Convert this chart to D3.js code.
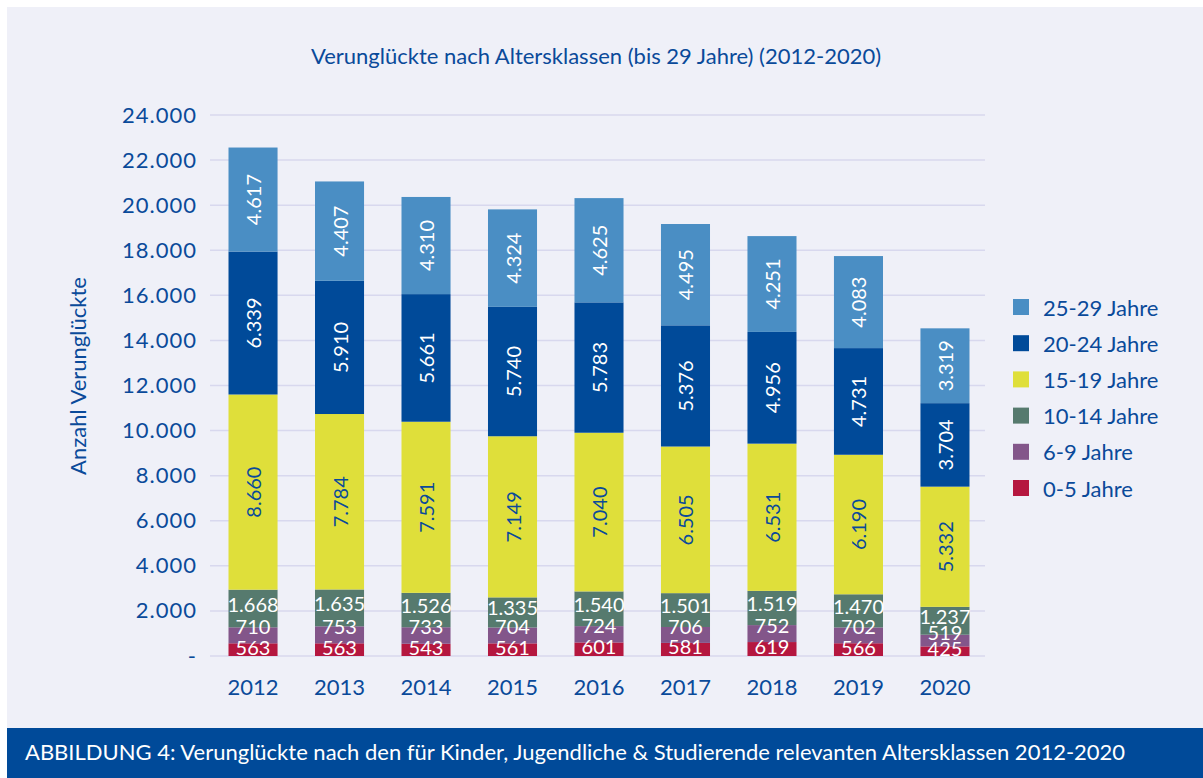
<!DOCTYPE html>
<html>
<head>
<meta charset="utf-8">
<script src="https://cdn.jsdelivr.net/npm/d3@7"></script>
<style>
  body { margin: 0; background: #ffffff; }
  text { font-family: Lato, "Open Sans", sans-serif; }
</style>
</head>
<body>
<div id="chart"></div>
<script>
// Data
var years = ['2012', '2013', '2014', '2015', '2016', '2017', '2018', '2019', '2020'];
var groups = ['0-5 Jahre', '6-9 Jahre', '10-14 Jahre', '15-19 Jahre', '20-24 Jahre', '25-29 Jahre'];
var age_0_5   = [563, 563, 543, 561, 601, 581, 619, 566, 425];
var age_6_9   = [710, 753, 733, 704, 724, 706, 752, 702, 519];
var age_10_14 = [1668, 1635, 1526, 1335, 1540, 1501, 1519, 1470, 1237];
var age_15_19 = [8660, 7784, 7591, 7149, 7040, 6505, 6531, 6190, 5332];
var age_20_24 = [6339, 5910, 5661, 5740, 5783, 5376, 4956, 4731, 3704];
var age_25_29 = [4617, 4407, 4310, 4324, 4625, 4495, 4251, 4083, 3319];
var y_ticks = [0, 2000, 4000, 6000, 8000, 10000, 12000, 14000, 16000, 18000, 20000, 22000, 24000];

var series_values = [age_0_5, age_6_9, age_10_14, age_15_19, age_20_24, age_25_29];
var colors = ['#b5173f', '#83568a', '#567a6e', '#dfdf3a', '#004a99', '#4a8ec4'];
var label_colors = ['#ffffff', '#ffffff', '#ffffff', '#0a4a9a', '#ffffff', '#ffffff'];
var label_shift = [-3, -9, -5, 0, 0, 0];

var width = 1203, height = 778;
var navy = '#0a4a9a';

var svg = d3.select('#chart')
    .append('svg')
    .attr('width', width)
    .attr('height', height);

// panel + footer
svg.append('rect')
    .attr('x', 7).attr('y', 7)
    .attr('width', width - 7).attr('height', 721)
    .attr('fill', '#eff0f8');

svg.append('rect')
    .attr('x', 7).attr('y', 728)
    .attr('width', width - 7).attr('height', 50)
    .attr('fill', '#004a99');

svg.append('text')
    .attr('x', 25).attr('y', 760)
    .attr('fill', '#ffffff')
    .attr('font-size', 22)
    .text('ABBILDUNG 4: Verunglückte nach den für Kinder, Jugendliche & Studierende relevanten Altersklassen 2012-2020');

// title
svg.append('text')
    .attr('x', 596).attr('y', 64)
    .attr('text-anchor', 'middle')
    .attr('fill', navy)
    .attr('font-size', 22)
    .text('Verunglückte nach Altersklassen (bis 29 Jahre) (2012-2020)');

// scales
var x = d3.scaleBand()
    .domain(years)
    .range([210, 988])
    .paddingInner(0.433)
    .paddingOuter(0.214);

var y = d3.scaleLinear()
    .domain([0, 24000])
    .range([656, 115]);

var fmt = function(v) {
    return v === 0 ? '-' : d3.format(',')(v).replace(/,/g, '.');
};

// grid
svg.append('g')
    .selectAll('line')
    .data(y_ticks)
    .enter()
    .append('line')
    .attr('x1', 210).attr('x2', 985)
    .attr('y1', function(d){ return y(d); })
    .attr('y2', function(d){ return y(d); })
    .attr('stroke', '#d8d8ee')
    .attr('stroke-width', 1.5);

// y axis
var y_axis = svg.append('g')
    .attr('transform', 'translate(197,0)')
    .call(d3.axisLeft(y).tickValues(y_ticks).tickFormat(fmt).tickSize(0).tickPadding(0));
y_axis.select('.domain').remove();
y_axis.selectAll('text')
    .attr('fill', navy)
    .attr('font-size', 22)
    .attr('font-family', 'Lato, sans-serif')
    .style('letter-spacing', '1px');

// x axis
var x_axis = svg.append('g')
    .attr('transform', 'translate(0,675)')
    .call(d3.axisBottom(x).tickSize(0).tickPadding(0));
x_axis.select('.domain').remove();
x_axis.selectAll('text')
    .attr('fill', navy)
    .attr('font-size', 22)
    .attr('font-family', 'Lato, sans-serif')
    .attr('dy', '0.9em');

// y title
svg.append('text')
    .attr('transform', 'translate(86,376) rotate(-90)')
    .attr('text-anchor', 'middle')
    .attr('fill', navy)
    .attr('font-size', 22)
    .text('Anzahl Verunglückte');

// stack
var rows = years.map(function(yr, i){
    var r = { year: yr };
    groups.forEach(function(g, j){ r[g] = series_values[j][i]; });
    return r;
});
var stacked = d3.stack().keys(groups)(rows);

var layers = svg.append('g')
    .selectAll('g')
    .data(stacked)
    .enter()
    .append('g')
    .attr('fill', function(d, i){ return colors[i]; });

layers.selectAll('rect')
    .data(function(d){ return d; })
    .enter()
    .append('rect')
    .attr('x', function(d){ return x(d.data.year); })
    .attr('width', x.bandwidth())
    .attr('y', function(d){ return y(d[1]); })
    .attr('height', function(d){ return y(d[0]) - y(d[1]); });

// labels
stacked.forEach(function(layer, i){
    var g = svg.append('g');
    g.selectAll('text')
        .data(layer)
        .enter()
        .append('text')
        .attr('font-family', '"Open Sans", sans-serif')
        .attr('font-size', 20)
        .attr('fill', label_colors[i])
        .attr('text-anchor', 'middle')
        .attr('dominant-baseline', 'central')
        .attr('transform', function(d){
            var cx = x(d.data.year) + x.bandwidth() / 2;
            var cy = (y(d[0]) + y(d[1])) / 2 + label_shift[i];
            return i >= 3 ? 'translate(' + cx + ',' + cy + ') rotate(-90)' : 'translate(' + cx + ',' + cy + ')';
        })
        .text(function(d){ return fmt(d[1] - d[0]); });
});

// legend
var legend = svg.append('g')
    .selectAll('g')
    .data(groups.slice().reverse())
    .enter()
    .append('g')
    .attr('transform', function(d, i){ return 'translate(1013,' + (299 + i * 36.2) + ')'; });

legend.append('rect')
    .attr('width', 16).attr('height', 16)
    .attr('fill', function(d){ return colors[groups.indexOf(d)]; });

legend.append('text')
    .attr('x', 30).attr('y', 8)
    .attr('dominant-baseline', 'central')
    .attr('fill', navy)
    .attr('font-size', 22)
    .text(function(d){ return d; });
</script>
</body>
</html>
